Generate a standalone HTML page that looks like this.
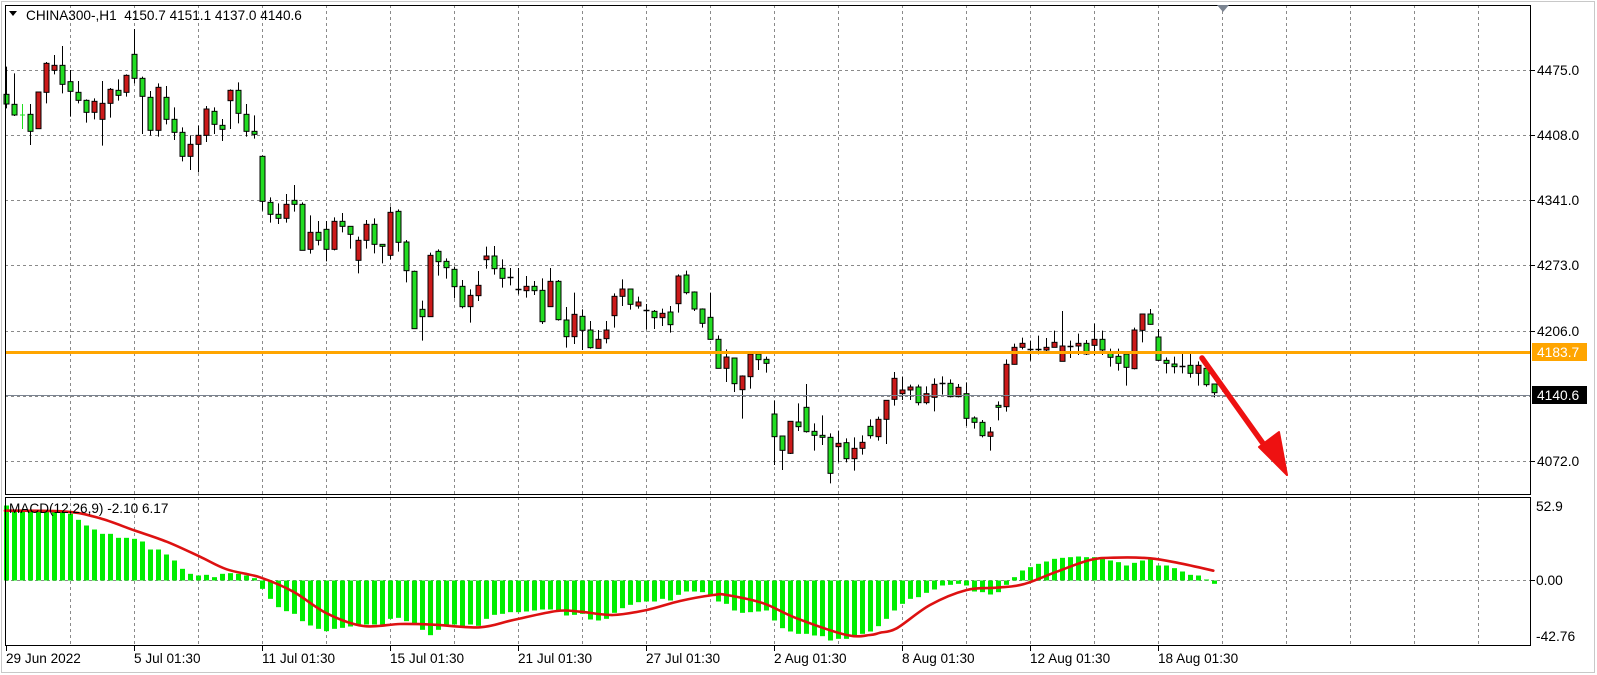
<!DOCTYPE html>
<html><head><meta charset="utf-8">
<style>
html,body{margin:0;padding:0;background:#fff;}
svg{display:block;font-family:"Liberation Sans",sans-serif;}
</style></head>
<body>
<svg id="c" width="1597" height="675" viewBox="0 0 1597 675" xmlns="http://www.w3.org/2000/svg">
<rect x="0" y="0" width="1597" height="675" fill="#fff"/>
<rect x="1.5" y="1.5" width="1593" height="671" fill="none" stroke="#c8c8c8" stroke-width="1"/>
<g id="grid"></g>
<g id="macd"></g>
<g id="candles"></g>
<line x1="5" y1="352.5" x2="1531" y2="352.5" stroke="#ffa500" stroke-width="3"/>
<line x1="5" y1="395.5" x2="1531" y2="395.5" stroke="#7a8390" stroke-width="1"/>
<rect x="5.5" y="5.5" width="1525" height="489" fill="none" stroke="#000" stroke-width="1"/>
<rect x="5.5" y="497.5" width="1525" height="148" fill="none" stroke="#000" stroke-width="1"/>
<polygon points="1217,5 1229,5 1223,12" fill="#7a8390"/>
<polygon points="9,11 17,11 13,16" fill="#000"/>
<text x="26" y="20" font-size="13.6" fill="#000">CHINA300-,H1&#160;&#160;4150.7 4151.1 4137.0 4140.6</text>
<text x="9" y="513" font-size="13.6" fill="#000">MACD(12,26,9) -2.10 6.17</text>
<g font-size="13.8" fill="#000">
<text x="1537" y="75">4475.0</text>
<text x="1537" y="140">4408.0</text>
<text x="1537" y="205">4341.0</text>
<text x="1537" y="270">4273.0</text>
<text x="1537" y="336">4206.0</text>
<text x="1537" y="466">4072.0</text>
<text x="1536" y="511">52.9</text>
<text x="1536" y="585">0.00</text>
<text x="1536" y="641">-42.76</text>
</g>
<g stroke="#000">
<line x1="1531" y1="70.5" x2="1535" y2="70.5"/><line x1="1531" y1="135.5" x2="1535" y2="135.5"/>
<line x1="1531" y1="200.5" x2="1535" y2="200.5"/><line x1="1531" y1="265.5" x2="1535" y2="265.5"/>
<line x1="1531" y1="331.5" x2="1535" y2="331.5"/><line x1="1531" y1="461.5" x2="1535" y2="461.5"/>
<line x1="1531" y1="580.5" x2="1535" y2="580.5"/>
</g>
<rect x="1532" y="343" width="55" height="18" fill="#ffa500"/>
<text x="1537" y="357" font-size="13.8" fill="#fff">4183.7</text>
<rect x="1532" y="386" width="55" height="18" fill="#000"/>
<text x="1537" y="400" font-size="13.8" fill="#fff">4140.6</text>
<g id="dates" font-size="13.6" fill="#000"></g>
<line x1="1202" y1="358" x2="1272" y2="456" stroke="#ee1111" stroke-width="5.5" stroke-linecap="round"/>
<polygon points="1287,475 1259,447 1279,432" fill="#ee1111" stroke="#ee1111" stroke-width="2" stroke-linejoin="round"/>
</svg>
<script>
(function(){
var NS="http://www.w3.org/2000/svg";
function el(p,t,a){var e=document.createElementNS(NS,t);for(var k in a)e.setAttribute(k,a[k]);p.appendChild(e);return e;}
var grid=document.getElementById('grid');
var gy=[70.5,135.5,200.5,265.5,331.5,396.5,461.5];
gy.forEach(function(y){el(grid,'line',{x1:5,y1:y,x2:1531,y2:y,stroke:'#8a8a8a','stroke-dasharray':'3,3','stroke-width':1});});
el(grid,'line',{x1:5,y1:580.5,x2:1531,y2:580.5,stroke:'#8a8a8a','stroke-dasharray':'3,3','stroke-width':1});
for(var k=1;k<=23;k++){var x=6+64*k+0.5;
 el(grid,'line',{x1:x,y1:5,x2:x,y2:495,stroke:'#8a8a8a','stroke-dasharray':'3,3','stroke-width':1});
 el(grid,'line',{x1:x,y1:497,x2:x,y2:646,stroke:'#8a8a8a','stroke-dasharray':'3,3','stroke-width':1});}
var dl=["29 Jun 2022","5 Jul 01:30","11 Jul 01:30","15 Jul 01:30","21 Jul 01:30","27 Jul 01:30","2 Aug 01:30","8 Aug 01:30","12 Aug 01:30","18 Aug 01:30"];
var dg=document.getElementById('dates');
dl.forEach(function(s,i){var x=6+128*i;var t=el(dg,'text',{x:x,y:663});t.textContent=s;
 el(document.getElementById('c'),'line',{x1:x+0.5,y1:646,x2:x+0.5,y2:651,stroke:'#000'});});
var A=[[110,235,193,222,'G'],[130,258,223,255,'G'],[222,297,255,256,'g'],[222,345,253,304,'G'],[186,296,186,296,'R'],[96,220,100,187,'R'],[75,133,106,121,'R'],[48,190,106,163,'G'],[120,260,155,184,'G'],[153,220,187,211,'G'],[208,278,211,247,'G'],[205,268,214,247,'R'],[153,347,220,268,'R'],[174,263,178,220,'R'],[148,212,181,196,'G'],[133,200,136,187,'R'],[-3,160,73,145,'G'],[140,312,145,199,'G'],[183,317,202,301,'G'],[160,320,172,301,'R'],[168,283,202,268,'G'],[232,330,268,307,'G'],[292,394,307,379,'G'],[316,420,343,379,'R'],[287,427,316,343,'R'],[228,336,237,316,'R'],[232,312,244,283,'G'],[267,333,286,298,'G'],[178,297,181,212,'R'],[157,280,181,250,'G'],[222,320,253,304,'G'],[256,326,304,313,'G'],[376,542,379,514,'G'],[502,578,517,553,'G'],[520,582,553,565,'G'],[492,578,523,565,'R'],[465,545,511,523,'G'],[517,661,523,661,'G'],[556,671,607,658,'R'],[573,646,607,631,'G'],[573,694,598,658,'G'],[562,661,574,658,'R'],[549,607,574,589,'G'],[589,656,589,613,'G'],[620,730,631,691,'R'],[570,656,583,631,'R'],[565,670,583,643,'G'],[643,700,643,649,'G'],[530,688,547,676,'R'],[538,665,544,637,'G']];
var B=[[30,157,36,122,'G'],[122,296,124,296,'G'],[212,332,238,260,'G'],[68,260,76,260,'R'],[58,137,64,95,'G'],[85,146,94,113,'G'],[110,205,118,170,'G'],[150,235,169,230,'G'],[178,278,196,230,'R'],[123,213,166,197,'R'],[50,116,78,89,'R'],[48,134,78,116,'G'],[88,173,115,145,'G'],[114,166,142,146,'D'],[114,193,178,182,'D'],[138,203,169,182,'R'],[153,195,169,182,'G'],[145,282,181,275,'G'],[114,230,154,230,'R'],[150,272,154,269,'G'],[231,353,270,320,'G'],[188,342,253,320,'R'],[238,360,259,301,'G'],[273,356,300,353,'G'],[300,356,328,355,'R'],[273,340,300,326,'R'],[190,293,199,257,'R'],[148,228,177,199,'R'],[177,239,177,223,'G'],[200,236,216,228,'R'],[222,298,241,245,'D'],[240,297,244,263,'G'],[236,288,250,263,'R'],[228,308,246,284,'G'],[133,248,138,221,'R'],[122,193,135,188,'G'],[184,243,186,237,'G'],[235,293,237,280,'G'],[188,330,262,328,'G'],[316,415,328,415,'G'],[358,456,381,415,'R'],[384,486,384,461,'G'],[436,566,438,479,'R'],[365,476,372,440,'R'],[372,420,372,389,'G'],[380,428,388,400,'G'],[511,705,552,620,'G'],[618,720,618,661,'G'],[574,672,574,670,'R'],[520,603,576,590,'G']];
var C=[[282,428,352,425,'G'],[400,482,424,436,'G'],[376,465,436,442,'G'],[430,580,442,550,'G'],[422,517,460,470,'R'],[445,517,458,506,'G'],[442,542,475,506,'R'],[436,494,457,475,'R'],[388,446,409,437,'G'],[380,452,388,440,'R'],[330,462,331,388,'R'],[246,347,265,328,'R'],[260,330,300,311,'R'],[284,330,291,300,'R'],[284,346,291,338,'G'],[289,343,311,338,'R'],[265,364,283,322,'R'],[259,314,280,282,'D'],[268,322,280,320,'G'],[282,322,292,320,'R'],[277,408,311,385,'G'],[379,416,384,397,'G'],[390,442,397,437,'G'],[411,482,426,439,'R'],[334,391,346,352,'G'],[208,365,223,350,'R'],[161,224,172,223,'R'],[143,178,160,172,'R'],[152,212,178,180,'D'],[137,193,178,180,'D'],[144,191,172,180,'R'],[122,172,157,172,'R'],[63,214,168,214,'R'],[152,204,168,170,'D'],[131,195,160,168,'R'],[150,195,160,192,'G'],[101,195,148,166,'R'],[122,195,148,180,'G'],[176,230,190,202,'G'],[176,242,199,220,'G'],[190,287,192,232,'G'],[113,238,120,236,'R'],[72,157,72,121,'R'],[57,104,72,103,'G'],[117,213,141,211,'G'],[202,250,211,220,'G'],[200,250,222,230,'G'],[192,250,228,230,'D'],[191,263,226,250,'G'],[214,287,226,250,'R'],[228,290,235,284,'G'],[281,322,282,308,'G']];
var cg=document.getElementById('candles');
function draw(arr,start,off){arr.forEach(function(c,j){var i=start+j;var x=Math.round(5.5+8*i)+0.5;
 var f=function(v){return off+v/3;};
 var wt=f(c[0]),wb=f(c[1]),bt=f(c[2]),bb=f(c[3]);
 if(c[4]=='g'){el(cg,'line',{x1:x,y1:wt,x2:x,y2:wb,stroke:'#22dd22'});el(cg,'line',{x1:x-2.5,y1:bt,x2:x+2.5,y2:bt,stroke:'#22dd22'});return;}
 el(cg,'line',{x1:x,y1:wt,x2:x,y2:wb,stroke:'#000'});
 if(c[4]=='D'||bb-bt<1.5){el(cg,'line',{x1:x-3,y1:Math.round(bt)+0.5,x2:x+3,y2:Math.round(bt)+0.5,stroke:'#000','stroke-width':1.5});return;}
 el(cg,'rect',{x:x-2.5,y:bt,width:5,height:bb-bt,fill:c[4]=='G'?'#22dd22':'#cc1a1a',stroke:'#000','stroke-width':1});
});}
draw(A,0,30);draw(B,50,230);draw(C,100,290);
var h=[];
var z4=[75,90,90,90,90,90,90,90,100,118,135,147,160,160,172,172,175,183,207,207,222,240,265,280,285,283,290,280,278,280,285,293,325,355,380,392,400,422,435,445,452,445,442,438,432,432,432,432,415,412,422,432,448,464,448,438,432,440,432,436];
z4.forEach(function(v){h.push((300-v)/3);});
var z9=[370,358,355,350,350,348,345,342,342,345,360,358,355,372,375,370,352,338,328,320,318,318,310,315,298,288,288,290,300,318,325,345,352,350,348,345,375,398,408,415,415,420,422,435,430,430,422,415,408,392];
z9.forEach(function(v){h.push((255-v)/3);});
var z10=[370,345,325,310,305,292,282,270,268,265,270,288,290,297,290,268,245,225,215,205,198,190,187,185,183,185,185,190,195,200,210,202,195,187,210,210,218,228,238,240,252,265];
z10.forEach(function(v){h.push((255-v)/3);});
var mg=document.getElementById('macd');
h.forEach(function(v,i){var x=Math.round(5.5+8*i);var y0=580.5;
 if(v>=0)el(mg,'rect',{x:x-2,y:y0-v,width:5,height:Math.max(v,1),fill:'#00ee00'});
 else el(mg,'rect',{x:x-2,y:y0,width:5,height:-v,fill:'#00ee00'});});
var pts=[];
[[15,92],[200,95],[300,115],[400,150],[500,185],[600,230],[680,268],[780,292],[880,335],[980,400],[1090,438],[1200,432],[1300,434]].forEach(function(p){pts.push([p[0]/3,480+p[1]/3]);});
[[0,397],[100,375],[230,348],[300,350],[400,360],[500,345],[600,318],[700,300],[740,300],[850,325],[950,370],[1100,420],[1170,420]].forEach(function(p){pts.push([480+p[0]/3,495+p[1]/3]);});
[[0,413],[50,400],[150,330],[260,285],[350,278],[430,268],[530,230],[630,195],[700,188],[810,190],[900,205],[1000,227]].forEach(function(p){pts.push([880+p[0]/3,495+p[1]/3]);});
var d="M"+pts[0][0].toFixed(1)+","+pts[0][1].toFixed(1);
for(var i=0;i<pts.length-1;i++){
 var p0=pts[Math.max(i-1,0)],p1=pts[i],p2=pts[i+1],p3=pts[Math.min(i+2,pts.length-1)];
 var c1x=p1[0]+(p2[0]-p0[0])/6,c1y=p1[1]+(p2[1]-p0[1])/6;
 var c2x=p2[0]-(p3[0]-p1[0])/6,c2y=p2[1]-(p3[1]-p1[1])/6;
 d+=" C"+c1x.toFixed(1)+","+c1y.toFixed(1)+" "+c2x.toFixed(1)+","+c2y.toFixed(1)+" "+p2[0].toFixed(1)+","+p2[1].toFixed(1);
}
el(mg,'path',{d:d,fill:'none',stroke:'#dd1111','stroke-width':2.6,'stroke-linejoin':'round','stroke-linecap':'round'});
})();
</script>
</body></html>
